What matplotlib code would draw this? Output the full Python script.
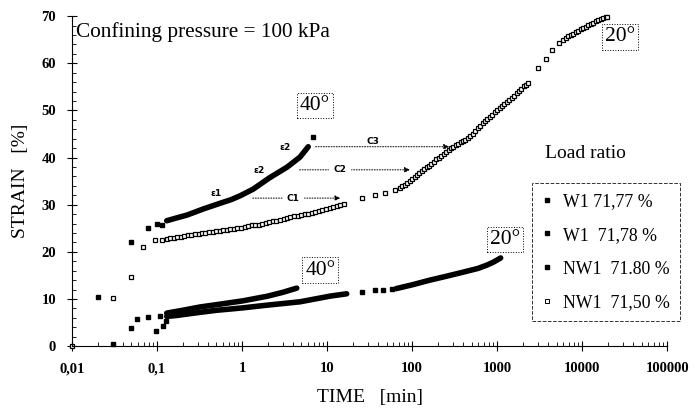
import matplotlib
matplotlib.use('Agg')
import matplotlib.pyplot as plt
from matplotlib.lines import Line2D
from matplotlib.ticker import FixedLocator, LogLocator, MultipleLocator, NullFormatter

plt.rcParams['font.family'] = ['Liberation Serif', 'DejaVu Serif']

# W1 71,77 % (upper, 40 deg)
w1a_pts_t = [0.05, 0.078, 0.1, 0.114, 6.9]
w1a_pts_s = [22.1, 25.0, 25.9, 25.7, 44.4]
w1a_t = [0.13, 0.17, 0.225, 0.35, 0.55, 0.75, 0.95, 1.35, 2.1, 3.4, 4.8, 6.0]
w1a_s = [26.6, 27.2, 27.8, 29.1, 30.3, 31.1, 31.9, 33.3, 35.7, 38.0, 40.1, 42.3]

# W1 71,78 % (lower, 40 deg)
w1b_pts_t = [0.02, 0.05, 0.097, 0.118, 0.127]
w1b_pts_s = [10.4, 3.8, 3.2, 4.3, 5.3]
w1b_t = [0.13, 0.2, 0.32, 0.55, 1.02, 2.0, 3.0, 4.4]
w1b_s = [7.0, 7.6, 8.3, 8.9, 9.6, 10.6, 11.4, 12.3]

# NW1 71,80 % (lower, 20 deg)
nw1a_pts_t = [0.03, 0.058, 0.078, 0.108, 26, 37, 46, 58]
nw1a_pts_s = [0.4, 5.7, 6.2, 6.4, 11.5, 11.9, 11.9, 12.1]
nw1a_t1 = [0.13, 0.17, 0.3, 0.5, 1.0, 2.0, 4.8, 10.8, 17]
nw1a_s1 = [6.3, 6.5, 7.1, 7.6, 8.1, 8.7, 9.4, 10.6, 11.1]
nw1a_t2 = [65, 100, 162, 250, 400, 600, 760, 900, 1100]
nw1a_s2 = [12.2, 13.0, 14.0, 14.8, 15.7, 16.5, 17.2, 17.8, 18.7]

# NW1 71,50 % (upper, 20 deg), open squares
nw1b_t = [0.01, 0.03, 0.05, 0.068, 0.095, 0.114,
          0.13, 0.143, 0.157, 0.173, 0.19, 0.21, 0.23, 0.253, 0.28, 0.31, 0.34,
          0.37, 0.41, 0.45, 0.5, 0.55, 0.6, 0.66, 0.73, 0.8, 0.88, 0.97, 1.07,
          1.17, 1.3, 1.43, 1.57, 1.73, 1.9, 2.1, 2.3, 2.5, 2.8, 3.1, 3.4, 3.7,
          4.1, 4.5, 5.0, 5.5, 6.0, 6.6, 7.3, 8.0, 8.8, 9.7, 10.7, 11.7, 13, 14.3,
          15.7,
          26, 37, 48, 63,
          72, 77, 82, 88, 94, 100, 107, 114, 122, 130, 139, 148, 158, 169, 180,
          193, 206, 220, 235, 251, 268, 286, 305, 326, 348, 372, 397, 424, 453,
          484, 517, 552, 590, 630, 673, 719, 768, 820, 876, 935, 1000, 1070,
          1140, 1220, 1300, 1390, 1480, 1580, 1690, 1800, 1930, 2060, 2200, 2300,
          3000, 3800, 4450, 5300,
          6000, 6400, 6800, 7300, 7800, 8400, 9000, 9600, 10300, 11000, 11800,
          12600, 13500, 14500, 15500, 16600, 17800, 19000, 19500]
nw1b_s = [0.0, 10.2, 14.6, 21.1, 22.5, 22.6,
          22.8, 22.9, 23.0, 23.1, 23.2, 23.4, 23.5, 23.6, 23.7, 23.8, 24.0,
          24.1, 24.2, 24.3, 24.4, 24.5, 24.6, 24.7, 24.8, 24.9, 25.0, 25.1, 25.3,
          25.4, 25.6, 25.7, 25.8, 26.0, 26.2, 26.3, 26.5, 26.6, 26.8, 27.0, 27.1, 27.3,
          27.5, 27.6, 27.8, 28.0, 28.1, 28.3, 28.5, 28.7, 28.9, 29.0, 29.3, 29.5, 29.7, 29.9,
          30.1,
          31.4, 32.0, 32.5, 33.1,
          33.6, 33.9, 34.2, 34.7, 35.1, 35.4, 35.8, 36.2, 36.7, 37.1, 37.5, 37.9, 38.3, 38.7, 39.1,
          39.6, 40.0, 40.4, 40.8, 41.2, 41.6, 42.0, 42.3, 42.6, 42.9, 43.2, 43.5, 43.8, 44.1,
          44.6, 45.1, 45.6, 46.2, 46.8, 47.3, 47.8, 48.2, 48.7, 49.1, 49.6, 50.0, 50.5,
          51.0, 51.4, 51.8, 52.2, 52.6, 53.1, 53.6, 54.1, 54.6, 55.1, 55.5, 55.8,
          59.0, 60.9, 62.8, 64.3,
          65.0, 65.4, 65.7, 66.0, 66.3, 66.7, 66.9, 67.2, 67.5, 67.8, 68.1,
          68.4, 68.6, 69.0, 69.2, 69.5, 69.7, 69.9, 69.9]

legend_labels = ['W1 71,77 %', 'W1  71,78 %', 'NW1  71.80 %', 'NW1  71,50 %']
x_ticks = [0.01, 0.1, 1, 10, 100, 1000, 10000, 100000]
x_labels = ['0,01', '0,1', '1', '10', '100', '1000', '10000', '100000']

fig = plt.figure(figsize=(6.95, 4.15), dpi=100)
ax = fig.add_axes([0.1036, 0.166, 0.8564, 0.795])

ms = 3.2
lw = 4.0
fill = dict(color='black', marker='s', markersize=ms, linestyle='none')
ax.plot(w1a_pts_t, w1a_pts_s, clip_on=False, **fill)
ax.plot(w1a_t, w1a_s, color='black', lw=lw, solid_capstyle='round')
ax.plot(w1b_pts_t, w1b_pts_s, clip_on=False, **fill)
ax.plot(w1b_t, w1b_s, color='black', lw=lw, solid_capstyle='round')
ax.plot(nw1a_pts_t, nw1a_pts_s, clip_on=False, **fill)
ax.plot(nw1a_t1, nw1a_s1, color='black', lw=lw, solid_capstyle='round')
ax.plot(nw1a_t2, nw1a_s2, color='black', lw=lw, solid_capstyle='round')
ax.plot(nw1b_t, nw1b_s, marker='s', markersize=3.0, markerfacecolor='white',
        markeredgecolor='black', markeredgewidth=0.9, linestyle='none', clip_on=False)

ax.set_xscale('log')
ax.set_xlim(0.01, 100000)
ax.set_ylim(0, 70)
for side in ['top', 'right']:
    ax.spines[side].set_visible(False)
ax.spines['left'].set_linewidth(0.8)
ax.spines['bottom'].set_linewidth(0.8)

ax.xaxis.set_major_locator(FixedLocator(x_ticks))
ax.set_xticklabels(x_labels, fontweight='bold', fontsize=10.5)
ax.xaxis.set_minor_locator(LogLocator(base=10, subs=range(2, 10), numticks=20))
ax.xaxis.set_minor_formatter(NullFormatter())
ax.yaxis.set_major_locator(MultipleLocator(10))
ax.yaxis.set_minor_locator(MultipleLocator(2))
for lab in ax.get_yticklabels():
    lab.set_fontweight('bold')
    lab.set_fontsize(10.5)
ax.tick_params(which='major', direction='inout', length=7, width=0.8, pad=8)
ax.tick_params(which='minor', direction='in', length=3, width=0.6)

ax.set_xlabel('TIME   [min]', fontsize=14, labelpad=10)
ax.set_ylabel('STRAIN   [%]', fontsize=14, labelpad=9)

ax.text(0.0112, 66.6, 'Confining pressure = 100 kPa', fontsize=15.3, va='center')

box = dict(boxstyle='square,pad=0.15', facecolor='white', edgecolor='black', lw=0.7, linestyle=':')
ax.text(7.2, 51, '40°', fontsize=15.5, ha='center', va='center', bbox=box)
ax.text(8.3, 16.1, '40°', fontsize=15.5, ha='center', va='center', bbox=box)
ax.text(1240, 22.6, '20°', fontsize=15.5, ha='center', va='center', bbox=box)
ax.text(28000, 65.6, '20°', fontsize=15.5, ha='center', va='center', bbox=box)

arrow = dict(arrowstyle='-|>', color='black', lw=0.7, linestyle=':', mutation_scale=8)
ax.annotate('', xy=(15.5, 31.4), xytext=(1.24, 31.4), arrowprops=arrow)
ax.annotate('', xy=(102, 37.4), xytext=(4.4, 37.4), arrowprops=arrow)
ax.annotate('', xy=(295, 42.3), xytext=(6.8, 42.3), arrowprops=arrow)
small = dict(fontsize=6.5, fontweight='bold', ha='center', va='center', family='DejaVu Sans')
ax.text(4.0, 31.4, 'C1', backgroundcolor='white', **small)
ax.text(14, 37.4, 'C2', backgroundcolor='white', **small)
ax.text(35, 43.4, 'C3', **small)
ax.text(0.5, 32.3, 'ε1', **small)
ax.text(1.6, 37.3, 'ε2', **small)
ax.text(3.2, 42.2, 'ε2', **small)

fig.text(545 / 695, 1 - 153 / 415, 'Load ratio', fontsize=14, va='center')

handles = [Line2D([], [], color='black', marker='s', markersize=2.8, linestyle='none'),
           Line2D([], [], color='black', marker='s', markersize=2.8, linestyle='none'),
           Line2D([], [], color='black', marker='s', markersize=2.8, linestyle='none'),
           Line2D([], [], marker='s', markersize=2.8, markerfacecolor='white',
                  markeredgecolor='black', markeredgewidth=0.7, linestyle='none')]
leg = fig.legend(handles, legend_labels, loc='upper left',
                 bbox_to_anchor=(532 / 695, 1 - 183 / 415), bbox_transform=fig.transFigure,
                 frameon=True, fancybox=False, fontsize=12.8, labelspacing=0.95,
                 handlelength=0.6, handletextpad=0.6, borderpad=0.55, borderaxespad=0)
leg.get_frame().set_edgecolor('black')
leg.get_frame().set_linewidth(0.7)
leg.get_frame().set_linestyle('--')

fig.savefig('out.png', dpi=100)
